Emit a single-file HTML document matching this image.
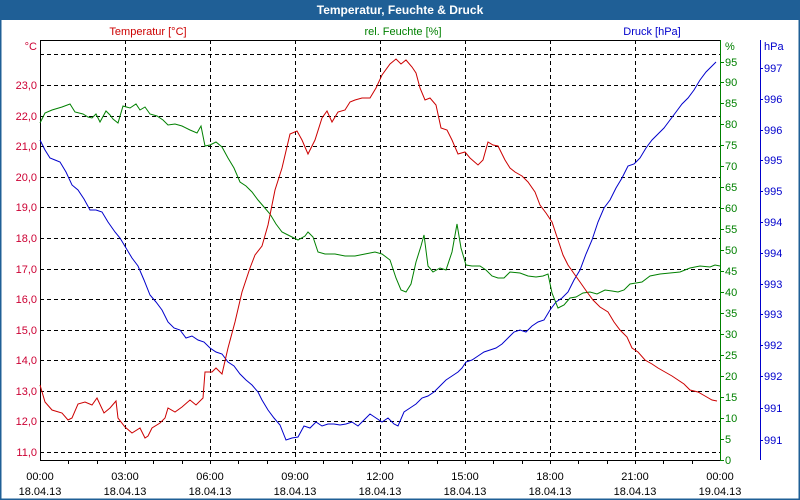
<!DOCTYPE html>
<html><head><meta charset="utf-8"><style>
html,body{margin:0;padding:0;background:#fff}
svg{display:block;font-family:"Liberation Sans","DejaVu Sans",sans-serif;font-size:11px}
</style></head><body>
<svg width="800" height="500" viewBox="0 0 800 500" xmlns="http://www.w3.org/2000/svg">
<rect x="0" y="0" width="800" height="500" fill="#fff"/>
<rect x="0.5" y="0.5" width="799" height="499" fill="none" stroke="#1f5f96" stroke-width="2"/>
<rect x="0" y="0" width="800" height="20" fill="#1f5f96"/>
<text x="400" y="14" text-anchor="middle" fill="#fff" font-weight="bold" font-size="12">Temperatur, Feuchte &amp; Druck</text>
<text x="148" y="35" text-anchor="middle" fill="#cc0000">Temperatur [°C]</text>
<text x="403" y="35" text-anchor="middle" fill="#008000">rel. Feuchte [%]</text>
<text x="652" y="35" text-anchor="middle" fill="#0000cc">Druck [hPa]</text>
<g stroke="#000" stroke-dasharray="4,3" stroke-width="1">
<line x1="40" x2="720" y1="54.5" y2="54.5"/><line x1="40" x2="720" y1="85.5" y2="85.5"/><line x1="40" x2="720" y1="116.5" y2="116.5"/><line x1="40" x2="720" y1="146.5" y2="146.5"/><line x1="40" x2="720" y1="177.5" y2="177.5"/><line x1="40" x2="720" y1="207.5" y2="207.5"/><line x1="40" x2="720" y1="238.5" y2="238.5"/><line x1="40" x2="720" y1="269.5" y2="269.5"/><line x1="40" x2="720" y1="299.5" y2="299.5"/><line x1="40" x2="720" y1="330.5" y2="330.5"/><line x1="40" x2="720" y1="360.5" y2="360.5"/><line x1="40" x2="720" y1="391.5" y2="391.5"/><line x1="40" x2="720" y1="421.5" y2="421.5"/><line x1="40" x2="720" y1="452.5" y2="452.5"/>
<line x1="125.5" x2="125.5" y1="40" y2="460"/><line x1="210.5" x2="210.5" y1="40" y2="460"/><line x1="295.5" x2="295.5" y1="40" y2="460"/><line x1="380.5" x2="380.5" y1="40" y2="460"/><line x1="465.5" x2="465.5" y1="40" y2="460"/><line x1="550.5" x2="550.5" y1="40" y2="460"/><line x1="635.5" x2="635.5" y1="40" y2="460"/>
</g>
<line x1="40" x2="720" y1="40.5" y2="40.5" stroke="#000"/>
<line x1="40.5" x2="40.5" y1="40" y2="460" stroke="#000"/>
<line x1="40" x2="720" y1="460.5" y2="460.5" stroke="#000"/>
<g stroke="#000">
<line x1="68.5" x2="68.5" y1="460" y2="464"/><line x1="97.5" x2="97.5" y1="460" y2="464"/><line x1="125.5" x2="125.5" y1="460" y2="464"/><line x1="153.5" x2="153.5" y1="460" y2="464"/><line x1="182.5" x2="182.5" y1="460" y2="464"/><line x1="210.5" x2="210.5" y1="460" y2="464"/><line x1="238.5" x2="238.5" y1="460" y2="464"/><line x1="267.5" x2="267.5" y1="460" y2="464"/><line x1="295.5" x2="295.5" y1="460" y2="464"/><line x1="323.5" x2="323.5" y1="460" y2="464"/><line x1="352.5" x2="352.5" y1="460" y2="464"/><line x1="380.5" x2="380.5" y1="460" y2="464"/><line x1="408.5" x2="408.5" y1="460" y2="464"/><line x1="437.5" x2="437.5" y1="460" y2="464"/><line x1="465.5" x2="465.5" y1="460" y2="464"/><line x1="493.5" x2="493.5" y1="460" y2="464"/><line x1="522.5" x2="522.5" y1="460" y2="464"/><line x1="550.5" x2="550.5" y1="460" y2="464"/><line x1="578.5" x2="578.5" y1="460" y2="464"/><line x1="607.5" x2="607.5" y1="460" y2="464"/><line x1="635.5" x2="635.5" y1="460" y2="464"/><line x1="663.5" x2="663.5" y1="460" y2="464"/><line x1="692.5" x2="692.5" y1="460" y2="464"/>
</g>
<g fill="#000" text-anchor="middle">
<text x="40" y="480">00:00</text><text x="40" y="495">18.04.13</text>
<text x="125" y="480">03:00</text><text x="125" y="495">18.04.13</text>
<text x="210" y="480">06:00</text><text x="210" y="495">18.04.13</text>
<text x="295" y="480">09:00</text><text x="295" y="495">18.04.13</text>
<text x="380" y="480">12:00</text><text x="380" y="495">18.04.13</text>
<text x="465" y="480">15:00</text><text x="465" y="495">18.04.13</text>
<text x="550" y="480">18:00</text><text x="550" y="495">18.04.13</text>
<text x="635" y="480">21:00</text><text x="635" y="495">18.04.13</text>
<text x="720" y="480">00:00</text><text x="720" y="495">19.04.13</text>
</g>
<g fill="#cc0033" text-anchor="end">
<text x="37" y="50">°C</text>
<text x="37" y="89">23,0</text><text x="37" y="120">22,0</text><text x="37" y="150">21,0</text><text x="37" y="181">20,0</text><text x="37" y="211">19,0</text><text x="37" y="242">18,0</text><text x="37" y="273">17,0</text><text x="37" y="303">16,0</text><text x="37" y="334">15,0</text><text x="37" y="364">14,0</text><text x="37" y="395">13,0</text><text x="37" y="425">12,0</text><text x="37" y="456">11,0</text>
</g>
<line x1="720.5" x2="720.5" y1="40" y2="461" stroke="#008000"/>
<g stroke="#008000">
<line x1="720" x2="724" y1="460.5" y2="460.5"/><line x1="720" x2="724" y1="439.5" y2="439.5"/><line x1="720" x2="724" y1="418.5" y2="418.5"/><line x1="720" x2="724" y1="397.5" y2="397.5"/><line x1="720" x2="724" y1="376.5" y2="376.5"/><line x1="720" x2="724" y1="355.5" y2="355.5"/><line x1="720" x2="724" y1="334.5" y2="334.5"/><line x1="720" x2="724" y1="313.5" y2="313.5"/><line x1="720" x2="724" y1="292.5" y2="292.5"/><line x1="720" x2="724" y1="271.5" y2="271.5"/><line x1="720" x2="724" y1="250.5" y2="250.5"/><line x1="720" x2="724" y1="229.5" y2="229.5"/><line x1="720" x2="724" y1="208.5" y2="208.5"/><line x1="720" x2="724" y1="187.5" y2="187.5"/><line x1="720" x2="724" y1="166.5" y2="166.5"/><line x1="720" x2="724" y1="145.5" y2="145.5"/><line x1="720" x2="724" y1="124.5" y2="124.5"/><line x1="720" x2="724" y1="103.5" y2="103.5"/><line x1="720" x2="724" y1="82.5" y2="82.5"/><line x1="720" x2="724" y1="62.5" y2="62.5"/>
</g>
<g fill="#008000">
<text x="725" y="50">%</text>
<text x="725" y="464">0</text><text x="725" y="443">5</text><text x="725" y="422">10</text><text x="725" y="401">15</text><text x="725" y="380">20</text><text x="725" y="359">25</text><text x="725" y="338">30</text><text x="725" y="317">35</text><text x="725" y="296">40</text><text x="725" y="275">45</text><text x="725" y="254">50</text><text x="725" y="233">55</text><text x="725" y="212">60</text><text x="725" y="191">65</text><text x="725" y="170">70</text><text x="725" y="149">75</text><text x="725" y="128">80</text><text x="725" y="107">85</text><text x="725" y="86">90</text><text x="725" y="66">95</text>
</g>
<line x1="760.5" x2="760.5" y1="40" y2="460" stroke="#0000cc"/>
<g stroke="#0000cc">
<line x1="760" x2="763" y1="68.5" y2="68.5"/><line x1="760" x2="763" y1="99.5" y2="99.5"/><line x1="760" x2="763" y1="130.5" y2="130.5"/><line x1="760" x2="763" y1="160.5" y2="160.5"/><line x1="760" x2="763" y1="191.5" y2="191.5"/><line x1="760" x2="763" y1="222.5" y2="222.5"/><line x1="760" x2="763" y1="253.5" y2="253.5"/><line x1="760" x2="763" y1="284.5" y2="284.5"/><line x1="760" x2="763" y1="314.5" y2="314.5"/><line x1="760" x2="763" y1="345.5" y2="345.5"/><line x1="760" x2="763" y1="376.5" y2="376.5"/><line x1="760" x2="763" y1="408.5" y2="408.5"/><line x1="760" x2="763" y1="440.5" y2="440.5"/>
</g>
<g fill="#0000cc">
<text x="764" y="50">hPa</text>
<text x="764" y="72">997</text><text x="764" y="103">996</text><text x="764" y="134">996</text><text x="764" y="164">995</text><text x="764" y="195">995</text><text x="764" y="226">994</text><text x="764" y="257">994</text><text x="764" y="288">993</text><text x="764" y="318">993</text><text x="764" y="349">992</text><text x="764" y="380">992</text><text x="764" y="412">991</text><text x="764" y="444">991</text>
</g>
<polyline fill="none" stroke="#0000cc" stroke-width="1" points="40,140 45,150 50,158 55,160 60,162 66,172 72,185 78,190 84,199 90,210 96,210 102,212 108,222 115,232 120,238 126,248 132,258 138,266 144,280 150,295 156,302 162,310 168,322 174,328 180,330 186,338 192,336 198,340 204,342 210,348 216,352 222,354 228,362 234,366 240,374 246,380 252,385 258,392 262,400 268,410 274,418 280,425 286,440 292,438 298,437 304,426 310,428 316,422 322,426 328,424 334,424 340,425 346,424 352,422 358,426 364,420 370,414 376,418 382,422 388,418 394,424 398,426 404,412 410,408 416,404 422,398 428,396 434,392 440,386 446,380 452,376 458,372 462,368 466,362 472,360 478,356 484,352 490,350 496,348 502,344 508,338 514,332 520,330 526,332 532,326 538,322 544,320 550,310 556,302 562,298 568,292 574,280 580,270 586,254 592,240 598,222 604,208 610,200 616,188 622,178 628,166 634,164 640,158 646,148 652,140 658,134 664,128 670,120 676,112 682,104 688,98 694,90 700,80 706,72 712,66 716,62"/>
<polyline fill="none" stroke="#008000" stroke-width="1" points="40,123 45,113 52,110 62,107 70,104 75,112 83,114 88,117 92,118 96,114 100,122 106,111 110,115 113,119 118,123 123,106 130,108 136,104 140,110 145,107 150,114 157,116 163,120 168,125 175,124 182,126 190,130 197,133 201,126 205,146 210,145 216,142 222,147 228,158 234,168 240,182 246,186 252,192 258,200 264,207 270,214 276,224 282,232 290,236 298,240 305,236 308,232 313,237 318,252 325,254 335,254 345,256 355,256 365,254 375,252 382,254 390,260 396,278 401,290 406,292 411,284 416,262 421,246 424,235 428,266 433,272 440,268 446,270 452,252 457,224 461,248 466,265 472,266 480,266 486,270 492,276 498,278 504,278 510,272 520,273 528,276 536,277 543,276 548,274 552,293 558,308 564,305 570,298 576,297 583,293 590,292 597,294 605,290 612,291 618,292 624,290 630,284 636,283 642,282 650,276 660,274 670,273 680,272 690,268 700,266 710,267 715,265 720,266"/>
<polyline fill="none" stroke="#cc0000" stroke-width="1" points="40,385 45,402 52,410 62,413 68,420 72,418 78,404 85,402 92,405 97,398 104,413 110,408 116,401 118,418 125,427 132,433 140,428 145,438 148,436 152,428 160,423 165,418 168,408 175,412 182,407 190,400 196,405 203,398 205,372 212,372 216,368 222,374 228,348 235,322 242,292 250,268 255,255 262,246 268,225 275,190 282,168 290,134 297,131 302,140 308,154 315,140 322,118 327,111 332,122 338,112 345,110 350,102 355,100 362,98 370,98 376,88 382,75 390,64 396,59 401,64 406,60 412,67 416,73 420,88 425,100 430,98 436,105 441,128 447,130 452,140 458,154 465,152 470,158 478,165 483,160 488,142 493,145 498,146 505,160 510,168 515,172 522,176 528,182 535,192 540,205 546,213 552,222 558,240 563,255 568,265 575,275 580,282 587,292 593,300 600,307 608,312 614,322 620,330 627,337 632,348 638,352 645,360 652,364 658,368 665,372 672,376 678,380 684,384 690,390 698,392 705,396 712,400 717,401"/>
</svg>
</body></html>
